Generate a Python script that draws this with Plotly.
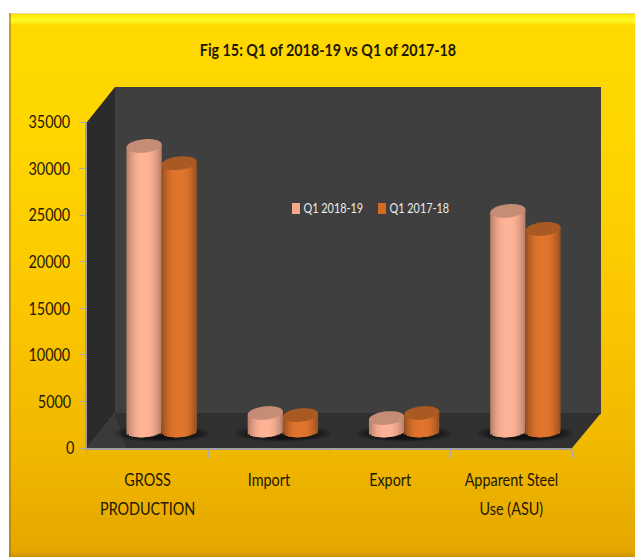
import math
import plotly.graph_objects as go

categories = ["GROSS<br>PRODUCTION", "Import", "Export", "Apparent Steel<br>Use (ASU)"]
series_names = ["Q1 2018-19", "Q1 2017-18"]
q1_2018_19 = [30550, 1880, 1340, 23570]
q1_2017_18 = [28700, 1660, 1880, 21640]
y_ticks = [0, 5000, 10000, 15000, 20000, 25000, 30000, 35000]
title_text = "Fig 15: Q1 of 2018-19 vs Q1 of 2017-18"

W, H = 635, 560
FONT = "Lato, sans-serif"
INK = "#1d1800"

def px(x): return x / W
def py(y): return 1 - y / H
def mix(a, b, t):
    return "#" + "".join(f"{round(a[i] + (b[i] - a[i]) * t):02x}" for i in range(3))

series_values = [q1_2018_19, q1_2017_18]
centre_rgb = [(255, 179, 150), (226, 117, 46)]
edge_rgb = [(176, 124, 104), (146, 78, 30)]
cap_rgb = ["#c58c76", "#a85a22"]
swatch_rgb = ["#f4a98c", "#d4691f"]

positions = list(range(len(categories)))
BAR = 0.29          # bar width, category units
RY = 720            # cap half-height, value units
TILT = 170          # cap rise from centre to right edge, value units
STRIPS = 14

fig = go.Figure()

# cylinders: each one is a row of narrow overlapping bars shaded edge to centre
for s, vals in enumerate(series_values):
    left = -BAR + s * BAR
    for k in range(STRIPS):
        t = -1 + (2 * k + 1) / STRIPS
        shade = abs(t) ** 2.4
        base = -RY * math.sqrt(max(1 - t * t, 0)) + TILT * t
        step = BAR / STRIPS
        fig.add_trace(go.Bar(
            x=positions, y=[v + TILT * t - base for v in vals], base=[base] * len(vals),
            xaxis="x2", yaxis="y2", width=step * (1.8 if k < STRIPS - 1 else 1.0),
            offset=left + step * k,
            marker=dict(color=mix(centre_rgb[s], edge_rgb[s], shade), line_width=0),
            name=series_names[s], showlegend=False, hoverinfo="skip", cliponaxis=False,
        ))

# invisible trace that gives the front axis its categories
fig.add_trace(go.Scatter(x=categories, y=[None] * len(categories), mode="markers",
                         showlegend=False, hoverinfo="skip"))

shapes = []
TOP = 13; BOTTOM = 557; LEFT = 9
stops = [(13, (224, 216, 160)), (14, (255, 232, 0)), (20, (255, 250, 40)), (25, (255, 217, 0)),
         (130, (255, 214, 0)), (300, (251, 199, 0)), (448, (241, 184, 0)), (550, (228, 167, 0)), (557, (205, 145, 0))]
def bg(y):
    for (a, ca), (b, cb) in zip(stops, stops[1:]):
        if a <= y <= b:
            return mix(ca, cb, (y - a) / (b - a))
    return mix(stops[-1][1], stops[-1][1], 0)
for y in range(TOP, BOTTOM):
    shapes.append(dict(type="rect", xref="paper", yref="paper", layer="below",
                       x0=px(LEFT), x1=1, y0=py(y), y1=py(BOTTOM),
                       fillcolor=bg(y), line_width=0))
shapes.append(dict(type="rect", xref="paper", yref="paper", layer="below",
                   x0=px(LEFT), x1=px(LEFT + 2), y0=py(TOP), y1=py(BOTTOM),
                   fillcolor="rgba(150,115,20,0.55)", line_width=0))

def poly(points, color):
    d = "M " + " L ".join(f"{px(a):.5f},{py(b):.5f}" for a, b in points) + " Z"
    return dict(type="path", xref="paper", yref="paper", layer="below", path=d,
                fillcolor=color, line_width=0)

shapes.append(poly([(115, 87), (601, 87), (601, 414), (115, 414)], "#3f3f3f"))
shapes.append(poly([(87, 122), (115, 87), (115, 413), (87, 448)], "#2b2b2b"))
shapes.append(poly([(87, 448), (115, 413), (601, 413), (572, 448)], "#303030"))
shapes.append(poly([(87, 448), (115, 413), (126, 448)], "#3a3a3a"))

def ellipse_path(cx, cy, rx, ry, tilt=0.0):
    pts = []
    for i in range(48):
        a = 2 * math.pi * i / 48
        c, sn = math.cos(a), math.sin(a)
        pts.append(f"{cx + rx * c:.4f},{cy + ry * sn + tilt * c:.1f}")
    return "M " + " L ".join(pts) + " Z"

# soft shadows under the bars
for p in positions:
    for f in (1.0, 0.9, 0.8, 0.7, 0.6):
        shapes.append(dict(type="path", xref="x2", yref="y2", layer="below",
                           path=ellipse_path(p, -320, 0.39 * f, 880 * f),
                           fillcolor="rgba(0,0,0,0.18)", line_width=0))

# cylinder caps, placed by the data values
for s, vals in enumerate(series_values):
    for p, v in zip(positions, vals):
        shapes.append(dict(type="path", xref="x2", yref="y2", layer="above",
                           path=ellipse_path(p - BAR / 2 + s * BAR, v, BAR / 2, RY, TILT),
                           fillcolor=cap_rgb[s], line_width=0))

# key on the back wall
annotations = []
for name, col, x0, tx in zip(series_names, swatch_rgb, (292, 378), (333, 419.5)):
    shapes.append(dict(type="rect", xref="paper", yref="paper", layer="above",
                       x0=px(x0), x1=px(x0 + 8), y0=py(214), y1=py(203),
                       fillcolor=col, line_width=0))
    annotations.append(dict(text=name, xref="paper", yref="paper", x=px(tx), y=py(208),
                            xanchor="center", yanchor="middle", showarrow=False,
                            font=dict(family=FONT, size=13.6, color="#ececec")))

def wrap(label):
    return "<br>".join(f'<span style="font-size:18px">{part}</span>' for part in label.split("<br>"))

fig.update_layout(
    width=W, height=H, autosize=False,
    margin=dict(l=0, r=0, t=0, b=0, autoexpand=False),
    paper_bgcolor="#ffffff", plot_bgcolor="rgba(0,0,0,0)",
    barmode="overlay", showlegend=False,
    font=dict(family=FONT, color=INK),
    title=dict(text=f"<b>{title_text}</b>", font=dict(family=FONT, size=17.9, color=INK),
               x=px(328), xanchor="center", y=py(50), yanchor="middle", xref="paper", yref="paper"),
    shapes=shapes, annotations=annotations,
    xaxis=dict(domain=[px(87), px(572)], type="category", tickmode="array",
               tickvals=categories, ticktext=[wrap(c) for c in categories],
               categoryorder="array", categoryarray=categories, range=[-0.5, 3.5],
               tickson="boundaries", tickangle=0,
               ticks="outside", ticklen=8, tickcolor="#a9a9a9", tickwidth=1, ticklabelstandoff=8,
               showline=True, linecolor="#a0a0a0", linewidth=2, showgrid=False,
               tickfont=dict(family=FONT, size=23, color=INK), anchor="y", fixedrange=True),
    yaxis=dict(domain=[py(448), py(122)], range=[0, 35000], tickmode="array", tickvals=y_ticks,
               tickformat="d",
               ticks="outside", ticklen=6, tickcolor="#a9a9a9", tickwidth=1,
               showline=True, linecolor="#a0a0a0", linewidth=2, showgrid=False, zeroline=False,
               tickfont=dict(family=FONT, size=18, color=INK), anchor="x", fixedrange=True),
    xaxis2=dict(domain=[px(101), px(586)], range=[-0.5, 3.5], visible=False, anchor="y2", fixedrange=True),
    yaxis2=dict(domain=[py(430.5 + 2000 * 326 / 35000), py(104.5)], range=[-2000, 35000],
                visible=False, anchor="x2", fixedrange=True),
)

# page fills the window without scrollbars; text squeezed like the reference's condensed face
POST = """
document.documentElement.style.overflow = 'hidden';
document.body.style.margin = '0';
document.querySelectorAll('.main-svg text').forEach(function (el) {
  var b = el.getBBox(), c = b.x + b.width / 2;
  el.setAttribute('transform', (el.getAttribute('transform') || '') +
    ' translate(' + c + ',0) scale(0.8,1) translate(' + (-c) + ',0)');
});
"""
fig.write_html("out.html", config={"displayModeBar": False}, post_script=POST)
